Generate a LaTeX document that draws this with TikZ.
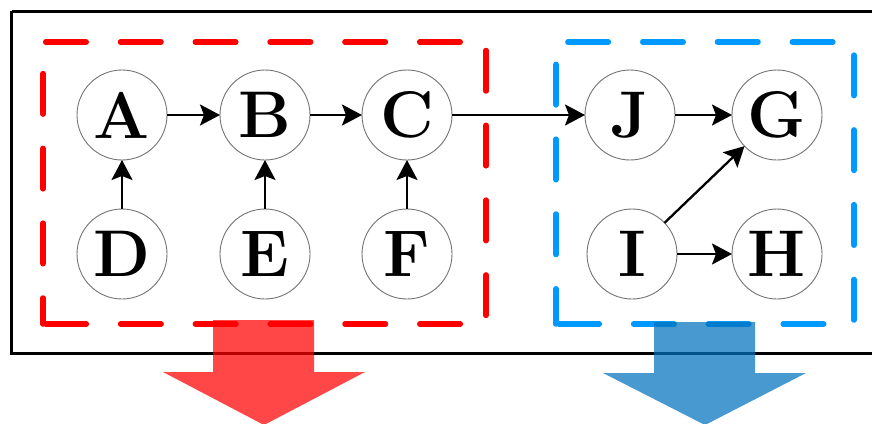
\documentclass[tikz,border=0pt]{standalone}
\usepackage{fontspec}
\usetikzlibrary{arrows.meta}
\definecolor{grpred}{RGB}{255,0,0}
\definecolor{grpblue}{RGB}{0,153,255}
\definecolor{outred}{RGB}{255,0,0}
\definecolor{outblue}{RGB}{0,114,189}
\tikzset{
  var/.style={circle, draw=black!55, line width=0.45pt, minimum size=45pt,
    inner sep=0pt, outer sep=0pt, font=\fontsize{33}{38}\selectfont\bfseries},
  link/.style={line width=1.15pt, -{Stealth[length=10pt, width=10.5pt, inset=2pt]}},
  group/.style={line width=2.75pt, line cap=round, line join=round,
    dash pattern=on 20.25pt off 17.15pt, dash phase=36pt},
  outflow/.style={fill opacity=0.72}
}
\begin{document}
\begin{tikzpicture}[x=0.5pt, y=-0.5pt]
  \useasboundingbox (0,0) rectangle (872,423);
  \clip (0,0) rectangle (872,423);
  \fill[white] (0,0) rectangle (872,423);

  % outer frame (runs past the right edge)
  \draw[line width=1.5pt] (11.5,11) -- (900,11) (11.5,11) -- (11.5,353) -- (900,353);

  % variable nodes
  \node[var] (A) at (122,115) {A};
  \node[var] (B) at (265,115) {B};
  \node[var] (C) at (407,115) {C};
  \node[var] (D) at (122,254) {D};
  \node[var] (E) at (265,254) {E};
  \node[var] (F) at (407,254) {F};
  \node[var] (J) at (630,115) {J};
  \node[var] (G) at (777,115) {G};
  \node[var] (I) at (632,254) {I};
  \node[var] (H) at (777,254) {H};

  % dependencies
  \draw[link] (A) -- (B);
  \draw[link] (B) -- (C);
  \draw[link] (D) -- (A);
  \draw[link] (E) -- (B);
  \draw[link] (F) -- (C);
  \draw[link] (C) -- (J);
  \draw[link] (J) -- (G);
  \draw[link] (I) -- (G);
  \draw[link] (I) -- (H);

  % group outlines
  \draw[group, grpred]  (43,324) -- (486,324) -- (486,42) -- (43,42) -- cycle;
  \draw[group, grpblue] (556,324) -- (854,324) -- (854,42) -- (556,42) -- cycle;

  % outgoing block arrows
  \fill[outflow, outred] (213,320) -- (314,320) -- (314,372) -- (365,372)
    -- (264,425) -- (163,372) -- (213,372) -- cycle;
  \fill[outflow, outblue] (654,322) -- (755,322) -- (755,373) -- (806,373)
    -- (705,425) -- (603,373) -- (654,373) -- cycle;
\end{tikzpicture}
\end{document}
